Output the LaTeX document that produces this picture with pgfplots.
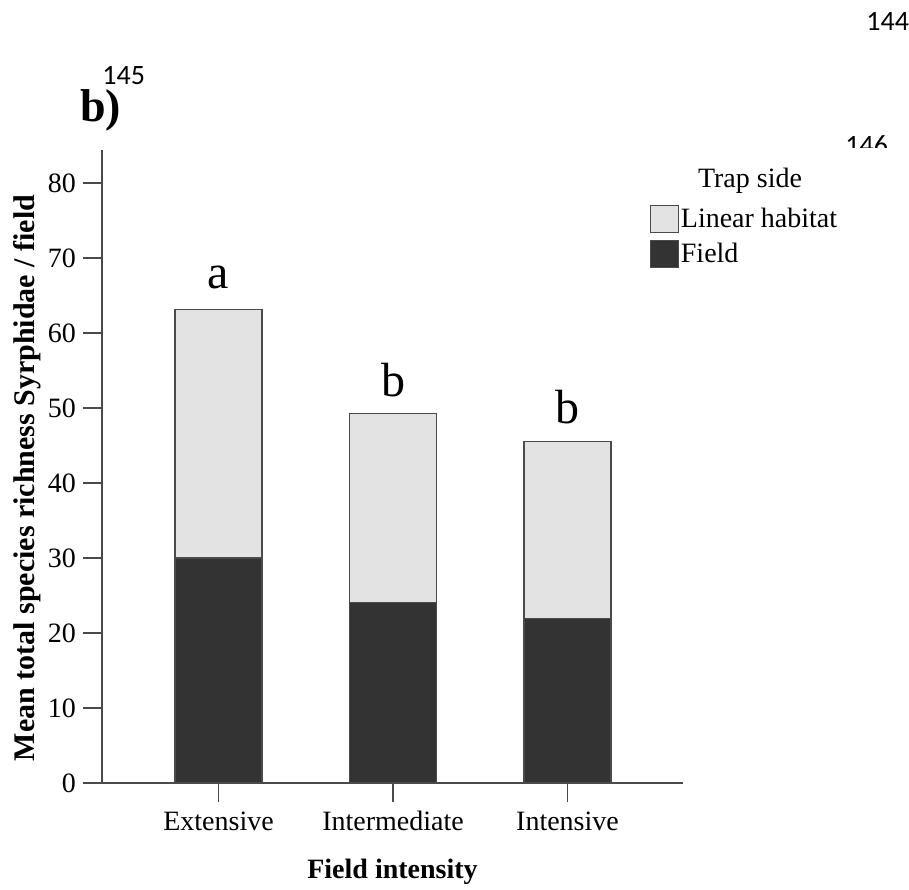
\documentclass[border=0pt]{standalone}
\usepackage{fontspec}
\setmainfont{Liberation Serif}
\newfontfamily\calibri{Carlito}
\usepackage{pgfplots}
\pgfplotsset{compat=1.18}
\definecolor{darkbar}{HTML}{333333}
\definecolor{lightbar}{HTML}{E3E3E3}
\definecolor{edgec}{HTML}{4A4A4A}
\begin{document}
\begin{tikzpicture}
\useasboundingbox (0,0) rectangle (454.5pt,-444.5pt);
\begin{axis}[
 at={(51pt,-391.5pt)}, anchor=south west, scale only axis,
 width=290.5pt, height=316.5pt,
 xmin=-0.668, xmax=2.662, ymin=0, ymax=84.4,
 axis x line*=bottom, axis y line*=left,
 axis line style={edgec, line width=0.9pt},
 ybar stacked, bar width=43.5pt,
 xtick={0,1,2}, xticklabels={Extensive,Intermediate,Intensive},
 ytick={0,10,20,30,40,50,60,70,80},
 yticklabels={0,10,20,30,40,50,60,70,80},
 tick align=outside, major tick length=9.5pt,
 tick style={edgec, line width=0.9pt},
 /pgf/number format/assume math mode=true,
 ticklabel style={font=\fontsize{14}{16}\selectfont},
 xticklabel style={text height=9.5pt, text depth=2pt, yshift=-1pt},
 legend style={draw=none, fill=none, at={(0.942,0.914)}, anchor=north west,
   inner sep=0pt, row sep=3.5pt, font=\fontsize{14}{16}\selectfont,
   nodes={inner sep=1pt}},
 legend cell align=left,
]
\addplot[forget plot, fill=darkbar, draw=edgec, line width=0.6pt] coordinates {(0,30.0) (1,24.1) (2,21.9)};
\addplot[forget plot, fill=lightbar, draw=edgec, line width=0.6pt] coordinates {(0,33.1) (1,25.2) (2,23.6)};
\addlegendimage{legend image code/.code={\draw[fill=lightbar, draw=edgec, line width=0.6pt] (0pt,-6.75pt) rectangle (14pt,6.75pt);}}
\addlegendentry{Linear habitat}
\addlegendimage{legend image code/.code={\draw[fill=darkbar, draw=edgec, line width=0.6pt] (0pt,-6.75pt) rectangle (14pt,6.75pt);}}
\addlegendentry{Field}
\node[anchor=base, font=\fontsize{24}{28}\selectfont] at (axis cs:0,63.1) [yshift=10.5pt] {a};
\node[anchor=base, font=\fontsize{24}{28}\selectfont] at (axis cs:1,49.3) [yshift=8.5pt] {b};
\node[anchor=base, font=\fontsize{24}{28}\selectfont] at (axis cs:2,45.5) [yshift=9pt] {b};
\end{axis}
% labels
\node[rotate=90, anchor=center] at (13.5pt,-239pt) {\resizebox{283pt}{!}{\bfseries Mean total species richness Syrphidae / field}};
\node[anchor=base, font=\bfseries\fontsize{14}{16}\selectfont] at (196.25pt,-439pt) {Field intensity};
\node[anchor=base, font=\fontsize{14}{16}\selectfont] at (375pt,-93.5pt) {Trap side};
\node[anchor=base west, inner sep=0pt, font=\bfseries\fontsize{23}{26}\selectfont] at (40pt,-60.5pt) {b)};
\node[anchor=base west, inner sep=0pt, font=\calibri\fontsize{14}{16}\selectfont] at (51pt,-42pt) {145};
\node[anchor=base west, inner sep=0pt, font=\calibri\fontsize{14}{16}\selectfont] at (433pt,-15pt) {144};
\node[anchor=base west, inner sep=0pt, font=\calibri\fontsize{14}{16}\selectfont] at (422.5pt,-77pt) {146};
\fill[white] (418pt,-74pt) rectangle (454.5pt,-82pt);
\end{tikzpicture}
\end{document}
